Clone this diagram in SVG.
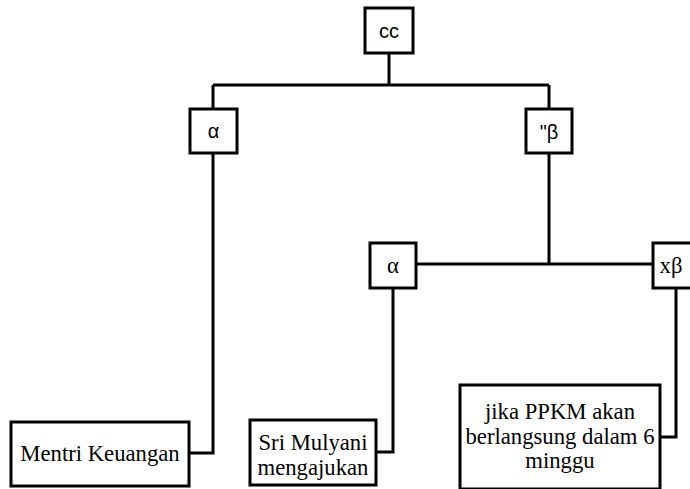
<svg xmlns="http://www.w3.org/2000/svg" width="690" height="489" viewBox="0 0 690 489">
<style>
.box{fill:#fff;stroke:#000;stroke-width:3}
.ln{fill:none;stroke:#000;stroke-width:3}
.s{font-family:"Liberation Sans",Arial,sans-serif;font-size:20px;fill:#000;text-anchor:middle}
.t{font-family:"Liberation Serif","Times New Roman",serif;font-size:22.7px;fill:#000;text-anchor:middle}
</style>
<rect width="690" height="489" fill="#fff"/>
<g id="connectors">
<path class="ln" d="M389 53V85M213 85H549M213 85V109M549 85V109"/>
<path class="ln" d="M213 153V453H189"/>
<path class="ln" d="M549 153V264M416 264H653"/>
<path class="ln" d="M393 288V452H376"/>
<path class="ln" d="M676 288V437H660"/>
</g>
<g id="n-cc"><rect class="box" x="365" y="8" width="48" height="45"/><text class="s" x="389" y="38">cc</text></g>
<g id="n-alpha1"><rect class="box" x="190" y="109" width="47" height="44"/><text class="s" x="213.5" y="138">α</text></g>
<g id="n-beta1"><rect class="box" x="526" y="109" width="46" height="44"/><text class="s" x="549" y="139">"β</text></g>
<g id="n-alpha2"><rect class="box" x="370" y="243" width="46" height="45"/><text class="t" x="393" y="273">α</text></g>
<g id="n-xbeta"><rect class="box" x="653" y="243" width="40" height="45"/><text class="t" x="671" y="273">xβ</text></g>
<g id="n-mentri"><rect class="box" x="11" y="422" width="178" height="64"/><text class="t" x="100" y="461">Mentri Keuangan</text></g>
<g id="n-sri"><rect class="box" x="250" y="420" width="126" height="65"/><text class="t" x="313" y="450">Sri Mulyani</text><text class="t" x="313" y="475">mengajukan</text></g>
<g id="n-jika"><rect class="box" x="460" y="385" width="200" height="104"/><text class="t" x="560" y="419">jika PPKM akan</text><text class="t" x="560" y="444">berlangsung dalam 6</text><text class="t" x="560" y="468">minggu</text></g>
</svg>
